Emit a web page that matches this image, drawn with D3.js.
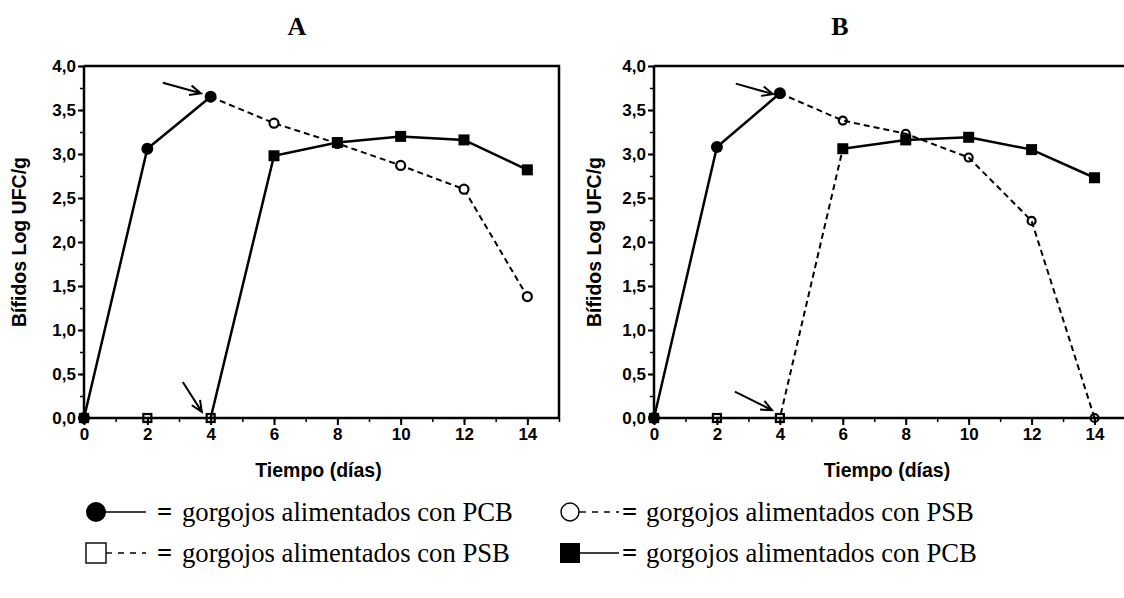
<!DOCTYPE html>
<html>
<head>
<meta charset="utf-8">
<script src="https://cdn.jsdelivr.net/npm/d3@7"></script>
<style>
  body { margin: 0; background: #fff; }
  svg { display: block; }
</style>
</head>
<body>
<div id="chart"></div>
<script>
const WIDTH = 1124;
const HEIGHT = 598;

// data
const days = [0, 2, 4, 6, 8, 10, 12, 14];
const yTicks = [0, 0.5, 1, 1.5, 2, 2.5, 3, 3.5, 4];

const aCircleFilled = [0, 3.06, 3.65, null, null, null, null, null];
const aCircleOpen = [null, null, 3.65, 3.35, 3.12, 2.87, 2.60, 1.38];
const aSquareOpen = [0, 0, 0, null, null, null, null, null];
const aSquareFilled = [null, null, 0, 2.98, 3.13, 3.20, 3.16, 2.82];

const bCircleFilled = [0, 3.08, 3.69, null, null, null, null, null];
const bCircleOpen = [null, null, 3.69, 3.38, 3.23, 2.96, 2.24, 0];
const bSquareOpen = [0, 0, 0, 3.06, null, null, null, null];
const bSquareFilled = [null, null, null, 3.06, 3.16, 3.19, 3.05, 2.73];

// arrows: [tail day, tail value, head day, head value]
const arrowsA = [[2.49, 3.81, 3.69, 3.69], [3.12, 0.41, 3.72, 0.07]];
const arrowsB = [[2.6, 3.80, 3.78, 3.68], [2.57, 0.30, 3.75, 0.09]];

const legendRows = [
  { shape: 'circleFilled', dash: false, text: 'gorgojos alimentados con PCB', col: 0, row: 0 },
  { shape: 'circleOpen', dash: true, text: 'gorgojos alimentados con PSB', col: 1, row: 0 },
  { shape: 'squareOpen', dash: true, text: 'gorgojos alimentados con PSB', col: 0, row: 1 },
  { shape: 'squareFilled', dash: false, text: 'gorgojos alimentados con PCB', col: 1, row: 1 }
];

const svg = d3.select('#chart').append('svg')
  .attr('width', WIDTH).attr('height', HEIGHT);

const SANS = 'Liberation Sans, Arial, sans-serif';
const SERIF = 'Liberation Serif, Times New Roman, serif';

const drawPanel = (opts) => {
  const x = d3.scaleLinear().domain([0, 15]).range([opts.x0, opts.x1]);
  const y = d3.scaleLinear().domain([0, 4]).range([418, 66]);
  const g = svg.append('g');

  // frame
  g.append('path')
    .attr('d', `M${x(0)},${y(4)}H${x(15)}V${y(0)}`)
    .attr('fill', 'none').attr('stroke', '#000').attr('stroke-width', 2.5);

  // y axis
  const yMinor = d3.range(0, 4.01, 0.25);
  g.append('g').attr('transform', `translate(${x(0)},0)`)
    .call(d3.axisLeft(y).tickValues(yMinor).tickSize(4).tickFormat(''))
    .call(a => a.select('.domain').remove())
    .selectAll('line').attr('stroke-width', 1.5);
  const yAx = g.append('g').attr('transform', `translate(${x(0)},0)`)
    .call(d3.axisLeft(y).tickValues(yTicks).tickSize(6).tickPadding(2)
      .tickFormat(d => d3.format('.1f')(d).replace('.', ',')));
  yAx.select('.domain').attr('stroke-width', 2.5).attr('d', `M0,${y(0)}V${y(4)}`);
  yAx.selectAll('line').attr('stroke-width', 2);
  yAx.selectAll('text').attr('font-family', SANS).attr('font-weight', 'bold')
    .attr('font-size', 17).attr('fill', '#000');

  // x axis
  g.append('g').attr('transform', `translate(0,${y(0)})`)
    .call(d3.axisBottom(x).tickValues(d3.range(0, 16, 1)).tickSize(4).tickFormat(''))
    .call(a => a.select('.domain').remove())
    .selectAll('line').attr('stroke-width', 1.5);
  const xAx = g.append('g').attr('transform', `translate(0,${y(0)})`)
    .call(d3.axisBottom(x).tickValues(days).tickSize(7).tickPadding(3));
  xAx.select('.domain').attr('stroke-width', 2.5).attr('d', `M${x(0)},0H${x(15)}`);
  xAx.selectAll('line').attr('stroke-width', 2);
  xAx.selectAll('text').attr('font-family', SANS).attr('font-weight', 'bold')
    .attr('font-size', 17).attr('fill', '#000');

  // titles
  g.append('text').attr('x', opts.titleX).attr('y', 35)
    .attr('text-anchor', 'middle').attr('font-family', SERIF)
    .attr('font-weight', 'bold').attr('font-size', 26).text(opts.title);
  g.append('text').attr('x', (x(0) + x(15)) / 2 - 3).attr('y', 477)
    .attr('text-anchor', 'middle').attr('font-family', SANS)
    .attr('font-weight', 'bold').attr('font-size', 19.5).text('Tiempo (días)');
  g.append('text')
    .attr('transform', `translate(${x(0) - opts.yTitleOff},${(y(0) + y(4)) / 2}) rotate(-90)`)
    .attr('text-anchor', 'middle').attr('font-family', SANS)
    .attr('font-weight', 'bold').attr('font-size', 19.5).text('Bífidos Log UFC/g');

  // lines
  const line = d3.line()
    .defined(d => d[1] != null)
    .x(d => x(d[0])).y(d => y(d[1]));

  opts.series.forEach(s => {
    const pts = days.map((d, i) => [d, s.values[i]]);
    g.append('path').datum(pts)
      .attr('d', line).attr('fill', 'none').attr('stroke', '#000')
      .attr('stroke-width', s.dash ? 2 : 2.5)
      .attr('stroke-dasharray', s.dash ? '6,4' : null);
  });

  // markers (drawn after lines)
  opts.series.forEach(s => {
    const pts = days.map((d, i) => [d, s.values[i], i])
      .filter(p => p[1] != null && s.marks.includes(p[2]));
    const sel = g.append('g').selectAll('.m').data(pts).enter();
    if (s.shape === 'circleFilled') {
      sel.append('circle').attr('cx', d => x(d[0])).attr('cy', d => y(d[1]))
        .attr('r', 6).attr('fill', '#000');
    } else if (s.shape === 'circleOpen') {
      sel.append('circle').attr('cx', d => x(d[0])).attr('cy', d => y(d[1]))
        .attr('r', opts.openR).attr('fill', opts.openFill)
        .attr('stroke', '#000').attr('stroke-width', 2.2);
    } else if (s.shape === 'squareOpen') {
      sel.append('rect').attr('x', d => x(d[0]) - 4).attr('y', d => y(d[1]) - 4)
        .attr('width', 8).attr('height', 8).attr('fill', 'none')
        .attr('stroke', '#000').attr('stroke-width', 2.2);
    } else {
      sel.append('rect').attr('x', d => x(d[0]) - 5.5).attr('y', d => y(d[1]) - 5.5)
        .attr('width', 11).attr('height', 11).attr('fill', '#000');
    }
  });

  // arrows
  opts.arrows.forEach(a => {
    const x1 = x(a[0]), y1 = y(a[1]), x2 = x(a[2]), y2 = y(a[3]);
    const ang = Math.atan2(y2 - y1, x2 - x1);
    const L = 12, spread = 0.42;
    const p = `M${x1},${y1}L${x2},${y2}` +
      `M${x2 - L * Math.cos(ang - spread)},${y2 - L * Math.sin(ang - spread)}L${x2},${y2}` +
      `L${x2 - L * Math.cos(ang + spread)},${y2 - L * Math.sin(ang + spread)}`;
    g.append('path').attr('d', p).attr('fill', 'none')
      .attr('stroke', '#000').attr('stroke-width', 2);
  });
};

drawPanel({
  title: 'A', titleX: 297, x0: 84, x1: 559, openR: 4.5, openFill: '#fff', yTitleOff: 58,
  arrows: arrowsA,
  series: [
    { values: aSquareOpen, dash: true, shape: 'squareOpen', marks: [0, 1, 2] },
    { values: aCircleOpen, dash: true, shape: 'circleOpen', marks: [3, 4, 5, 6, 7] },
    { values: aSquareFilled, dash: false, shape: 'squareFilled', marks: [3, 4, 5, 6, 7] },
    { values: aCircleFilled, dash: false, shape: 'circleFilled', marks: [0, 1, 2] }
  ]
});

drawPanel({
  title: 'B', titleX: 840, x0: 654, x1: 1126, openR: 4, openFill: 'none', yTitleOff: 53,
  arrows: arrowsB,
  series: [
    { values: bSquareOpen, dash: true, shape: 'squareOpen', marks: [0, 1, 2] },
    { values: bCircleOpen, dash: true, shape: 'circleOpen', marks: [3, 4, 5, 6, 7] },
    { values: bSquareFilled, dash: false, shape: 'squareFilled', marks: [3, 4, 5, 6, 7] },
    { values: bCircleFilled, dash: false, shape: 'circleFilled', marks: [0, 1, 2] }
  ]
});

// legend: per column the symbol start, line end, "=" and text positions
const legCols = [
  { sym: 86, lineEnd: 146, eq: 157, text: 182 },
  { sym: 560, lineEnd: 619, eq: 622, text: 646 }
];
const legY = [512, 553];
const leg = svg.append('g');
legendRows.forEach(r => {
  const c = legCols[r.col], ly = legY[r.row];
  const g = leg.append('g').attr('transform', `translate(0,${ly})`);
  const cx = c.sym + 10;
  if (r.dash) {
    g.append('line').attr('x1', cx).attr('x2', cx + 16).attr('y1', 0).attr('y2', 0)
      .attr('stroke', '#000').attr('stroke-width', 1.4);
    g.append('line').attr('x1', cx + 22).attr('x2', c.lineEnd).attr('y1', 0).attr('y2', 0)
      .attr('stroke', '#000').attr('stroke-width', 1.4).attr('stroke-dasharray', '6,6');
  } else {
    g.append('line').attr('x1', cx).attr('x2', c.lineEnd).attr('y1', 0).attr('y2', 0)
      .attr('stroke', '#000').attr('stroke-width', 1.4);
  }
  if (r.shape === 'circleFilled') {
    g.append('circle').attr('cx', cx).attr('cy', 0).attr('r', 10).attr('fill', '#000');
  } else if (r.shape === 'circleOpen') {
    g.append('circle').attr('cx', cx).attr('cy', 0).attr('r', 9).attr('fill', '#fff')
      .attr('stroke', '#000').attr('stroke-width', 1.4);
  } else if (r.shape === 'squareOpen') {
    g.append('rect').attr('x', c.sym).attr('y', -10).attr('width', 20).attr('height', 20)
      .attr('fill', '#fff').attr('stroke', '#000').attr('stroke-width', 1.4);
  } else {
    g.append('rect').attr('x', c.sym).attr('y', -10).attr('width', 20).attr('height', 20).attr('fill', '#000');
  }
  g.append('text').attr('x', c.eq).attr('y', 9).attr('font-family', SERIF)
    .attr('font-weight', 'bold').attr('font-size', 26.7).text('=');
  g.append('text').attr('x', c.text).attr('y', 9).attr('font-family', SERIF)
    .attr('font-size', 26.7).text(r.text);
});
</script>
</body>
</html>
